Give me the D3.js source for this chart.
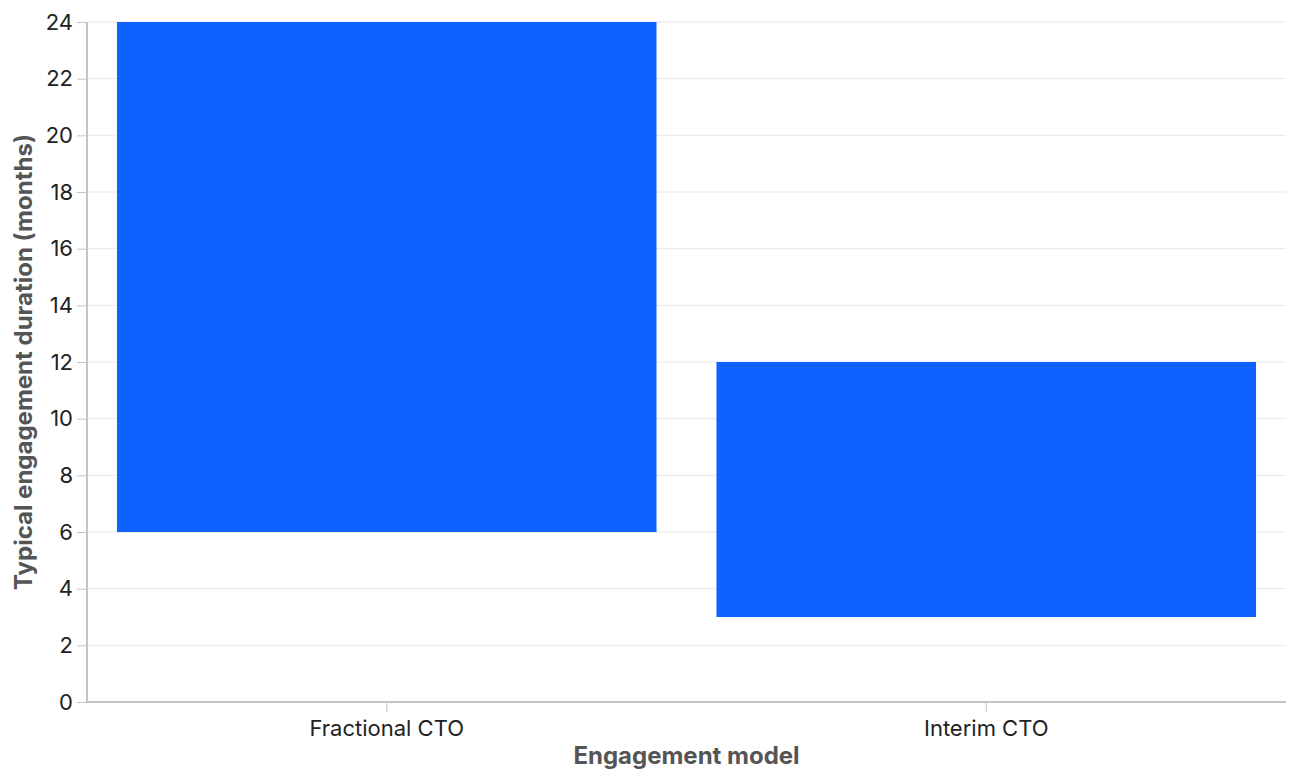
<!DOCTYPE html>
<html>
<head>
<meta charset="utf-8">
<script src="https://cdn.jsdelivr.net/npm/d3@7"></script>
<style>
  body { margin: 0; background: #fff; }
  text { font-family: Inter, "Noto Sans", sans-serif; }
</style>
</head>
<body>
<div class="box"></div>
<script>
// data
const categories = ['Fractional CTO', 'Interim CTO'];
const startMonths = [6, 3];
const endMonths = [24, 12];
const yTicks = [0, 2, 4, 6, 8, 10, 12, 14, 16, 18, 20, 22, 24];

const donnee = categories.map((c, i) => ({nom: c, debut: startMonths[i], fin: endMonths[i]}));

const width = 1296, height = 778;
const margin = {top: 22, right: 10, bottom: 76, left: 87};
const graphWidth = width - margin.left - margin.right;
const graphHeight = height - margin.top - margin.bottom;

const svg = d3.select('.box')
              .append('svg')
              .attr('width', width)
              .attr('height', height);

const graph = svg.append('g')
                 .attr('transform', `translate(${margin.left}, ${margin.top})`);

const x = d3.scaleBand()
            .domain(categories)
            .range([0, graphWidth])
            .paddingInner(0.1)
            .paddingOuter(0.05);

const y = d3.scaleLinear()
            .domain([0, 24])
            .range([graphHeight, 0]);

// grid
graph.append('g')
     .selectAll('line')
     .data(yTicks)
     .enter()
     .append('line')
     .attr('x1', 0)
     .attr('x2', graphWidth)
     .attr('y1', d => y(d))
     .attr('y2', d => y(d))
     .attr('stroke', '#e8e8e8')
     .attr('stroke-width', 1);

// bars
graph.selectAll('rect.bar')
     .data(donnee)
     .enter()
     .append('rect')
     .attr('class', 'bar')
     .attr('x', d => x(d.nom))
     .attr('width', x.bandwidth())
     .attr('y', d => y(d.fin))
     .attr('height', d => y(d.debut) - y(d.fin))
     .attr('fill', '#0f62fe');

// axes
const axeX = d3.axisBottom(x).tickSizeOuter(0).tickSize(10).tickPadding(8);
const axeY = d3.axisLeft(y).tickValues(yTicks).tickSizeOuter(0).tickSize(10).tickPadding(4);

const groupeX = graph.append('g')
                     .attr('transform', `translate(0, ${graphHeight})`)
                     .call(axeX);
const groupeY = graph.append('g')
                     .call(axeY);

[groupeX, groupeY].forEach(g => {
  g.select('.domain').remove();
  g.selectAll('.tick line').attr('stroke', '#c4c4c4');
  g.selectAll('.tick text')
   .attr('fill', '#222')
   .style('font-size', '22px')
   .style('font-family', 'Inter, sans-serif');
});

// axis lines
graph.append('line')
     .attr('x1', 0).attr('x2', graphWidth)
     .attr('y1', graphHeight).attr('y2', graphHeight)
     .attr('stroke', '#c4c4c4').attr('stroke-width', 2);
graph.append('line')
     .attr('x1', 0).attr('x2', 0)
     .attr('y1', 0).attr('y2', graphHeight)
     .attr('stroke', '#c4c4c4').attr('stroke-width', 2);

// axis titles
svg.append('text')
   .attr('x', margin.left + graphWidth / 2)
   .attr('y', 764)
   .attr('text-anchor', 'middle')
   .attr('fill', '#555')
   .style('font-size', '24px')
   .style('font-weight', 'bold')
   .text('Engagement model');

svg.append('text')
   .attr('transform', `translate(32, ${margin.top + graphHeight / 2}) rotate(-90)`)
   .attr('text-anchor', 'middle')
   .attr('fill', '#555')
   .style('font-size', '24px')
   .style('font-weight', 'bold')
   .text('Typical engagement duration (months)');
</script>
</body>
</html>
